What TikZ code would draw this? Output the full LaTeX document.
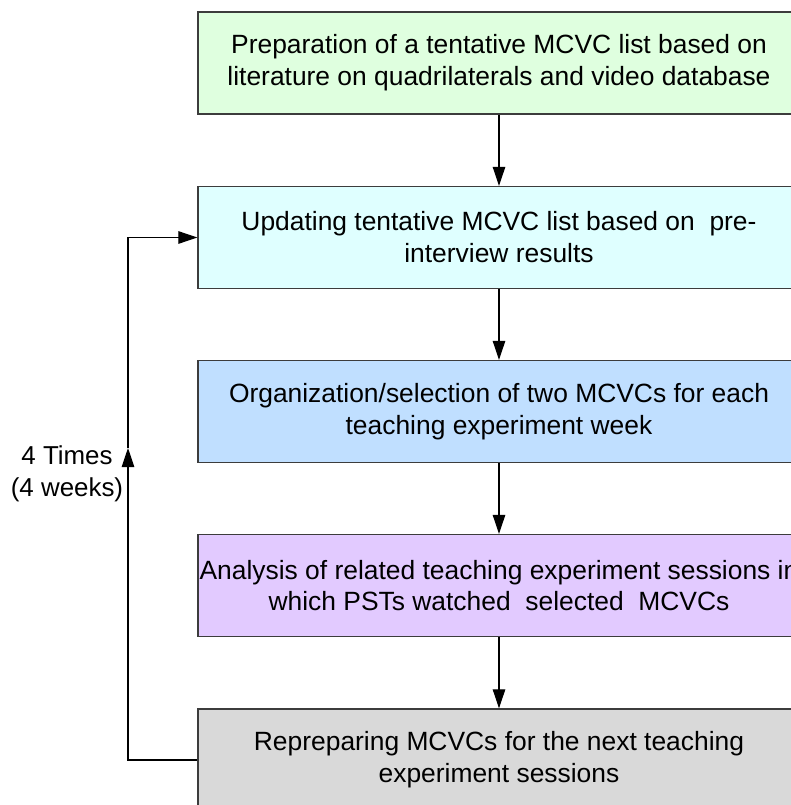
\documentclass[tikz,border=0pt]{standalone}
\usepackage{fontspec}
\setmainfont{Liberation Sans}
\usetikzlibrary{arrows.meta}

\definecolor{boxline}{RGB}{60,60,60}
\definecolor{fillprep}{RGB}{223,255,223}
\definecolor{fillupdate}{RGB}{223,255,255}
\definecolor{fillorg}{RGB}{192,223,255}
\definecolor{fillanalysis}{RGB}{226,202,255}
\definecolor{fillreprep}{RGB}{217,217,217}

\begin{document}
\begin{tikzpicture}[x=1bp, y=-1bp,
  stepbox/.style={draw=boxline, line width=1.3bp, minimum width=602bp,
    minimum height=102bp, inner sep=0pt, align=center,
    font=\fontsize{26.5}{32}\selectfont},
  flow/.style={draw=black, line width=1.1bp, -{Triangle[length=19bp,width=12.5bp]}},
  looplabel/.style={inner sep=0pt, align=center, font=\fontsize{26}{32}\selectfont}]

\useasboundingbox (0,0) rectangle (791,805);
\clip (0,0) rectangle (791,805);

% process steps
\node[stepbox, fill=fillprep] (prep) at (499,63)
  {Preparation of a tentative MCVC list based on\\literature on quadrilaterals and video database};

\node[stepbox, fill=fillupdate] (update) at (499,237.5)
  {Updating tentative MCVC list based on\ \ pre-\\interview results};

\node[stepbox, fill=fillorg] (organize) at (499,411.5)
  {Organization/selection of two MCVCs for each\\teaching experiment week};

\node[stepbox, fill=fillanalysis] (analysis) at (499,585.5)
  {Analysis of related teaching experiment sessions in\\which PSTs watched\ \ selected\ \ MCVCs};

\node[stepbox, fill=fillreprep] (reprep) at (499,760)
  {Repreparing MCVCs for the next teaching\\experiment sessions};

% forward flow
\draw[flow] (prep) -- (update);
\draw[flow] (update) -- (organize);
\draw[flow] (organize) -- (analysis);
\draw[flow] (analysis) -- (reprep);

% weekly feedback loop
\coordinate (looptip) at (128,448);
\draw[flow] (reprep.west) -| (looptip);
\draw[flow] (looptip) |- (update.west);
\node[looplabel] (looptext) at (67,474) {4 Times\\(4 weeks)};

\end{tikzpicture}
\end{document}
